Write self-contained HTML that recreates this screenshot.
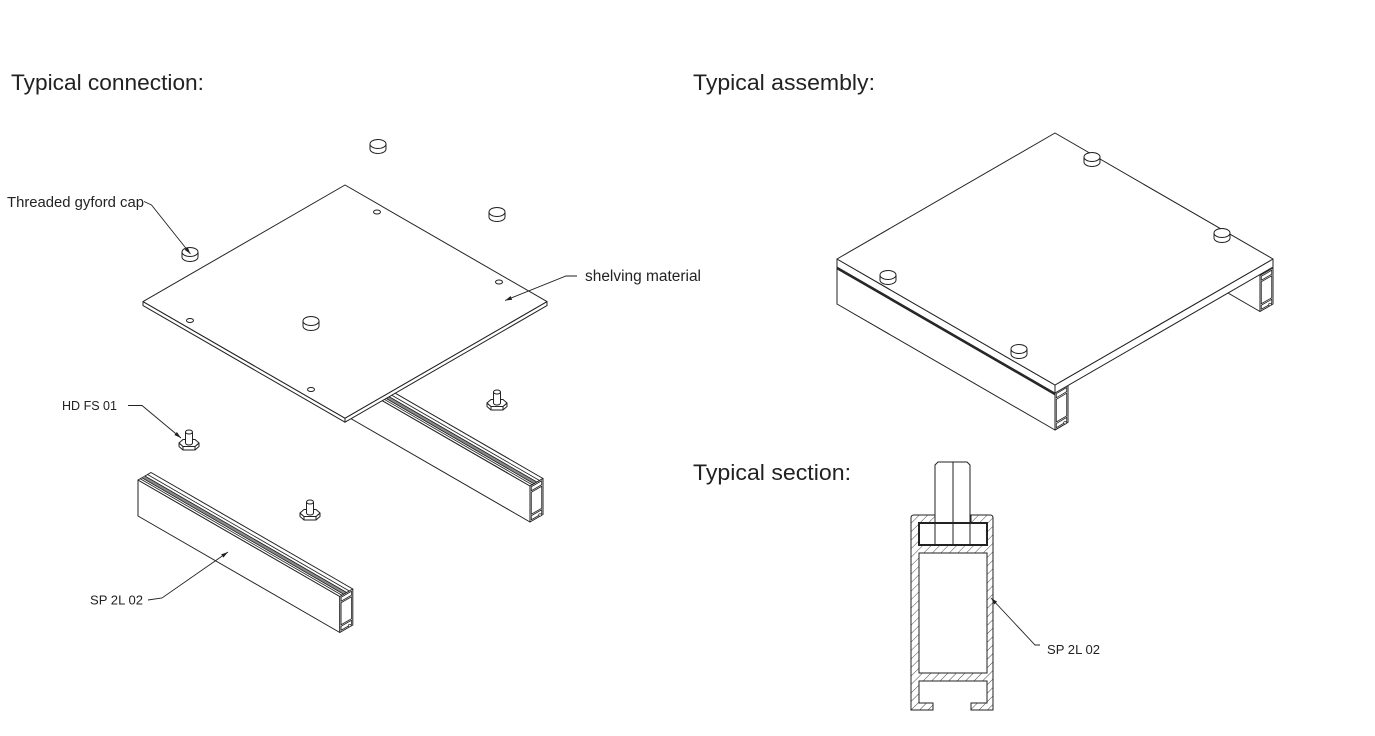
<!DOCTYPE html>
<html>
<head>
<meta charset="utf-8">
<style>
  html,body{margin:0;padding:0;background:#fff;}
  svg{display:block;}
  text{font-family:"Liberation Sans",Arial,sans-serif;fill:#222;}
</style>
</head>
<body>
<svg width="1375" height="736" viewBox="0 0 1375 736" xmlns="http://www.w3.org/2000/svg">
<defs>
  <pattern id="hatch" width="6" height="6" patternUnits="userSpaceOnUse" patternTransform="rotate(45)">
    <line x1="0" y1="0" x2="0" y2="6" stroke="#333" stroke-width="0.9"/>
  </pattern>
  <marker id="ar" markerWidth="8" markerHeight="6" refX="7" refY="3" orient="auto" markerUnits="userSpaceOnUse">
    <path d="M0,1 L7,3 L0,5 z" fill="#222"/>
  </marker>
  <g id="cap" stroke="#222" stroke-width="1" fill="#fff">
    <path d="M-8,0 L-8,5 A8,4.5 0 0 0 8,5 L8,0"/>
    <ellipse cx="0" cy="0" rx="8" ry="4.5"/>
  </g>
  <g id="stud" stroke="#222" stroke-width="1" fill="#fff" stroke-linejoin="round">
    <polygon points="-10,0 -10,3.5 -6,7 6,7 10,3.5 10,0 6,3.5 -6,3.5"/>
    <line x1="-6" y1="3.5" x2="-6" y2="7"/>
    <line x1="6" y1="3.5" x2="6" y2="7"/>
    <polygon points="-10,0 -6,-3.5 6,-3.5 10,0 6,3.5 -6,3.5"/>
    <path d="M-3.5,-11 L-3.5,0 A3.5,2 0 0 0 3.5,0 L3.5,-11"/>
    <ellipse cx="0" cy="-11" rx="3.5" ry="2"/>
  </g>
  <g id="endp" stroke="#222" fill="#fff" stroke-linejoin="round">
    <polygon points="0,0 13,-7.5 13,-43.5 0,-36" stroke-width="1"/>
    <polygon points="1.3,-7.75 11.7,-13.75 11.7,-35.75 1.3,-29.75" stroke-width="0.8"/>
    <polygon points="1.3,-2.25 11.7,-8.25 11.7,-12.25 1.3,-6.25" stroke-width="0.8"/>
    <polygon points="1.3,-31.25 11.7,-37.25 11.7,-41.25 1.3,-35.25" stroke-width="0.8"/>
    <circle cx="10" cy="-7" r="1.3" stroke-width="0.7"/>
  </g>
  <g id="rail" stroke="#222" stroke-width="1" fill="#fff" stroke-linejoin="round">
    <polygon points="138,516 339.8,632.5 339.8,596.5 138,480"/>
    <polygon points="138,480 339.8,596.5 352.8,589 151,472.5"/>
    <polygon points="141.9,477.75 343.7,594.25 346.7,592.5 144.9,476" fill="#8a8a8a" stroke="none"/>
    <line x1="140.2" y1="478.75" x2="342" y2="595.25" stroke-width="0.8"/>
    <line x1="141.9" y1="477.75" x2="343.7" y2="594.25" stroke-width="0.8"/>
    <line x1="144.9" y1="476" x2="346.7" y2="592.5" stroke-width="0.8"/>
    <line x1="147.5" y1="474.5" x2="349.3" y2="591" stroke-width="0.8"/>
    <use href="#endp" transform="translate(339.8,632.5)"/>
  </g>
</defs>

<rect width="1375" height="736" fill="#fff"/>

<!-- Titles -->
<text x="11" y="90" font-size="22.5" textLength="193" lengthAdjust="spacingAndGlyphs">Typical connection:</text>
<text x="693" y="90" font-size="22.5" textLength="182" lengthAdjust="spacingAndGlyphs">Typical assembly:</text>
<text x="693" y="480" font-size="22.5" textLength="158" lengthAdjust="spacingAndGlyphs">Typical section:</text>

<!-- ===== Exploded view ===== -->
<!-- upper rail (behind plate) -->
<use href="#rail" transform="translate(190.2,-110.5)"/>

<!-- plate -->
<g stroke="#222" stroke-width="1" fill="#fff" stroke-linejoin="round">
  <polygon points="143,301.6 345,418.2 345,422.2 143,305.6"/>
  <polygon points="345,418.2 547,301.6 547,305.6 345,422.2"/>
  <polygon points="345,185 547,301.6 345,418.2 143,301.6"/>
  <ellipse cx="377" cy="212" rx="3.5" ry="2"/>
  <ellipse cx="499" cy="282" rx="3.5" ry="2"/>
  <ellipse cx="190" cy="320.5" rx="3.5" ry="2"/>
  <ellipse cx="311" cy="389.5" rx="3.5" ry="2"/>
</g>

<!-- caps exploded -->
<use href="#cap" transform="translate(378,144)"/>
<use href="#cap" transform="translate(497,212)"/>
<use href="#cap" transform="translate(190,252)"/>
<use href="#cap" transform="translate(311,321)"/>

<!-- studs -->
<use href="#stud" transform="translate(189,443)"/>
<use href="#stud" transform="translate(497,403)"/>
<use href="#stud" transform="translate(310,513)"/>

<!-- lower rail -->
<use href="#rail"/>

<!-- leaders left -->
<g stroke="#222" stroke-width="0.9" fill="none">
  <polyline points="144,201.5 151.5,205 190.5,254" marker-end="url(#ar)"/>
  <polyline points="577,276 566,276 505,300.5" marker-end="url(#ar)"/>
  <polyline points="128,405.5 142,405.5 181,438" marker-end="url(#ar)"/>
  <polyline points="148,600 162,598 228,552" marker-end="url(#ar)"/>
</g>
<text x="7" y="207" font-size="15" textLength="137" lengthAdjust="spacingAndGlyphs">Threaded gyford cap</text>
<text x="585" y="281" font-size="15.5" textLength="116" lengthAdjust="spacingAndGlyphs">shelving material</text>
<text x="62" y="410" font-size="13" textLength="55" lengthAdjust="spacingAndGlyphs">HD FS 01</text>
<text x="90" y="604.5" font-size="13" textLength="53" lengthAdjust="spacingAndGlyphs">SP 2L 02</text>

<!-- ===== Assembly ===== -->
<!-- right (back) rail -->
<g stroke="#222" stroke-width="1" fill="#fff" stroke-linejoin="round">
  <polygon points="1042,148.5 1260,274.5 1260,311.5 1042,185.5"/>
</g>
<use href="#endp" transform="translate(1260,311.5)"/>
<!-- left (front) rail -->
<g stroke="#222" stroke-width="1" fill="#fff" stroke-linejoin="round">
  <polygon points="837,267 1055,393 1055,430 837,304"/>
</g>
<use href="#endp" transform="translate(1055,430) scale(1,1.03)"/>
<!-- plate -->
<g stroke="#222" stroke-width="1" fill="#fff" stroke-linejoin="round">
  <polygon points="837,259 1055,385 1055,393 837,267"/>
  <polygon points="1055,385 1273,259 1273,267 1055,393"/>
  <polygon points="1055,133 1273,259 1055,385 837,259"/>
  <line x1="837" y1="268.5" x2="1055" y2="394.5" stroke-width="1.6"/>
</g>
<use href="#cap" transform="translate(1092,157)"/>
<use href="#cap" transform="translate(1222,233)"/>
<use href="#cap" transform="translate(888,275)"/>
<use href="#cap" transform="translate(1019,349)"/>

<!-- ===== Section ===== -->
<g stroke="#222" stroke-width="1" stroke-linejoin="miter">
  <path fill="url(#hatch)" fill-rule="evenodd" d="M914,515 L935,515 L935,523 L919,523 L919,545 L987,545 L987,523 L971,523 L971,515 L990,515 Q993,515 993,518 L993,710 L971,710 L971,703 L987,703 L987,681 L919,681 L919,703 L933,703 L933,710 L911,710 L911,518 Q911,515 914,515 Z M919,553 L987,553 L987,673 L919,673 Z"/>
  <path fill="#fff" d="M935,523 L935,465 L938,462 L967,462 L970,465 L970,523 Z"/>
  <line x1="953" y1="462" x2="953" y2="523"/>
  <rect x="919" y="523" width="68" height="22" fill="#fff" stroke-width="2"/>
  <line x1="935" y1="524" x2="935" y2="544"/>
  <line x1="953" y1="524" x2="953" y2="544"/>
  <line x1="970" y1="524" x2="970" y2="544"/>
</g>
<g stroke="#222" stroke-width="0.9" fill="none">
  <polyline points="1040,645 1035,645 991,598" marker-end="url(#ar)"/>
</g>
<text x="1047" y="654" font-size="13" textLength="53" lengthAdjust="spacingAndGlyphs">SP 2L 02</text>
</svg>
</body>
</html>
